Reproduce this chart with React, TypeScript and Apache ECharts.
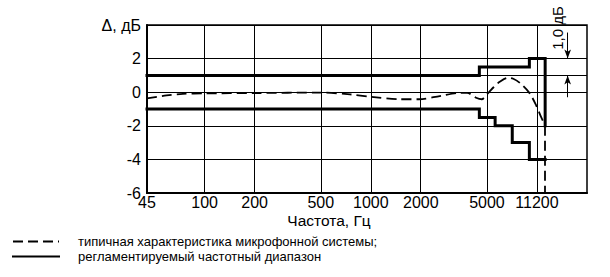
import React, { useEffect, useRef } from "react";
import * as echarts from "echarts";

// Axis ticks (frequency, Hz) and their printed labels
const tickFreqs = [45, 100, 200, 500, 1000, 2000, 5000, 10000];
const tickLabels = ["45", "100", "200", "500", "1000", "2000", "5000", "11200"];
const gridFreqs = [100, 200, 500, 1000, 2000, 5000, 10000];
const xMinFreq = 45;
const xMaxFreq = 20000;
const yTicks = [-6, -4, -2, 0, 2, 4];

// Typical microphone system response (dashed)
const curveFreqs = [45, 59, 74, 100, 200, 500, 750, 1000, 1500, 1950, 2600, 3400, 3800, 4300, 4650, 5000, 5500, 6000, 6700, 7200, 7900, 9000, 9900, 10600, 11200];
const curveValues = [-0.37, -0.19, -0.1, -0.07, -0.05, -0.02, -0.13, -0.27, -0.42, -0.42, -0.23, -0.04, -0.04, -0.33, -0.42, -0.13, 0.31, 0.64, 0.86, 0.8, 0.55, -0.04, -0.8, -1.49, -2.0];
const curveDropEnd = -6;

// Regulated frequency range (solid) – upper and lower limits
const upperFreqs = [45, 4500, 4500, 9000, 9000, 11200, 11200];
const upperValues = [1, 1, 1.5, 1.5, 2, 2, -2];
const lowerFreqs = [45, 4500, 4500, 5600, 5600, 7100, 7100, 9000, 9000, 11200];
const lowerValues = [-1, -1, -1.5, -1.5, -2, -2, -3, -3, -4, -4];

// Dimension "1,0 дБ"
const dimFreq = 15300;
const dimTopFrom = 3.55;
const dimTopTo = 2;
const dimBotFrom = -0.3;
const dimBotTo = 1;
const dimExtFrom = 4500;

const NAME_CURVE = "типичная характеристика микрофонной системы;";
const NAME_RANGE = "регламентируемый частотный диапазон";

const lg = (f: number) => Math.log10(f);
const FONT = "Liberation Sans, Arial, sans-serif";

export default function App() {
  const ref = useRef<HTMLDivElement>(null);
  useEffect(() => {
    if (!ref.current) return;
    const chart = echarts.init(ref.current, undefined, { renderer: "svg" });
    const tickVals = tickFreqs.map(lg);
    const option: any = {
      animation: false,
      backgroundColor: "#fff",
      textStyle: { fontFamily: FONT, color: "#000" },
      grid: {
        left: 147,
        right: 23,
        top: 25,
        bottom: 84,
        show: true,
        borderColor: "#000",
        borderWidth: 1.5,
        backgroundColor: "transparent",
      },
      legend: {
        orient: "vertical",
        left: 7,
        top: 230,
        itemWidth: 46,
        itemHeight: 14,
        itemGap: 2,
        data: [NAME_CURVE, NAME_RANGE],
        itemStyle: { opacity: 0 },
        textStyle: { fontSize: 13, fontFamily: FONT, color: "#000", padding: [0, 0, 0, 14] },
      },
      xAxis: {
        type: "value",
        min: lg(xMinFreq),
        max: lg(xMaxFreq),
        name: "Частота, Гц",
        nameLocation: "middle",
        nameGap: 20,
        nameMoveOverlap: false,
        nameTextStyle: {
          fontSize: 15.5,
          lineHeight: 14,
          fontFamily: FONT,
          color: "#000",
          padding: [0, 76, 0, 0],
        },
        axisLine: { show: true, onZero: false, lineStyle: { color: "#000", width: 2 } },
        axisTick: { show: false, customValues: tickVals },
        splitLine: { show: false },
        axisLabel: {
          customValues: tickVals,
          fontSize: 16,
          lineHeight: 14,
          fontFamily: FONT,
          color: "#000",
          margin: 2,
          showMinLabel: true,
          showMaxLabel: true,
          formatter: (v: number) => {
            const i = tickVals.findIndex((t) => Math.abs(t - v) < 1e-6);
            return i >= 0 ? tickLabels[i] : "";
          },
        },
      },
      yAxis: {
        type: "value",
        min: yTicks[0],
        max: yTicks[yTicks.length - 1],
        interval: 2,
        axisLine: { show: true, onZero: false, lineStyle: { color: "#000", width: 2 } },
        axisTick: { show: false },
        splitLine: { show: true, lineStyle: { color: "#000", width: 1 } },
        axisLabel: {
          fontSize: 16,
          fontFamily: FONT,
          color: "#000",
          margin: 6,
          formatter: (v: number) => (v === 4 ? "{n|Δ, дБ}" : String(v)),
          rich: { n: { fontSize: 16, fontFamily: FONT, color: "#000" } },
        },
      },
      graphic: [
        {
          type: "text",
          x: 557,
          y: 28,
          rotation: Math.PI / 2,
          style: {
            text: "1,0 дБ",
            fontSize: 15,
            fontFamily: FONT,
            fill: "#000",
            align: "center",
            verticalAlign: "middle",
          },
        },
      ],
      series: [
        {
          name: NAME_CURVE,
          type: "line",
          symbol: "none",
          smooth: 0.3,
          z: 3,
          itemStyle: { color: "#000" },
          lineStyle: { color: "#000", width: 1.8, type: [10, 5] },
          data: curveFreqs.map((f, i) => [lg(f), curveValues[i]]),
          markLine: {
            silent: true,
            symbol: "none",
            label: { show: false },
            lineStyle: { color: "#000", width: 1.8, type: [10, 5] },
            data: [
              [
                { coord: [lg(curveFreqs[curveFreqs.length - 1]), curveValues[curveValues.length - 1]] },
                { coord: [lg(curveFreqs[curveFreqs.length - 1]), curveDropEnd] },
              ],
            ],
          },
        },
        {
          name: NAME_RANGE,
          type: "line",
          symbol: "none",
          z: 4,
          itemStyle: { color: "#000" },
          lineStyle: { color: "#000", width: 3, cap: "square", join: "miter" },
          data: upperFreqs.map((f, i) => [lg(f), upperValues[i]]),
          markLine: {
            silent: true,
            label: { show: false },
            symbol: ["none", "arrow"],
            symbolSize: [5, 9],
            lineStyle: { color: "#000", width: 1, type: "solid" },
            data: [
              [{ coord: [lg(dimFreq), dimTopFrom] }, { coord: [lg(dimFreq), dimTopTo] }],
              [{ coord: [lg(dimFreq), dimBotFrom] }, { coord: [lg(dimFreq), dimBotTo] }],
              [
                { coord: [lg(dimExtFrom), dimBotTo], symbol: "none" },
                { coord: [lg(xMaxFreq), dimBotTo], symbol: "none" },
              ],
            ],
          },
        },
        {
          name: NAME_RANGE,
          type: "line",
          symbol: "none",
          z: 4,
          itemStyle: { color: "#000" },
          lineStyle: { color: "#000", width: 3, cap: "square", join: "miter" },
          data: lowerFreqs.map((f, i) => [lg(f), lowerValues[i]]),
          markLine: {
            silent: true,
            symbol: "none",
            label: { show: false },
            lineStyle: { color: "#000", width: 1, type: "solid" },
            data: gridFreqs.map((f) => ({ xAxis: lg(f) })),
          },
        },
      ],
    };
    chart.setOption(option);
    return () => chart.dispose();
  }, []);
  return (
    <div
      ref={ref}
      style={{ position: "fixed", left: 0, top: 0, width: 610, height: 277, background: "#fff" }}
    />
  );
}
